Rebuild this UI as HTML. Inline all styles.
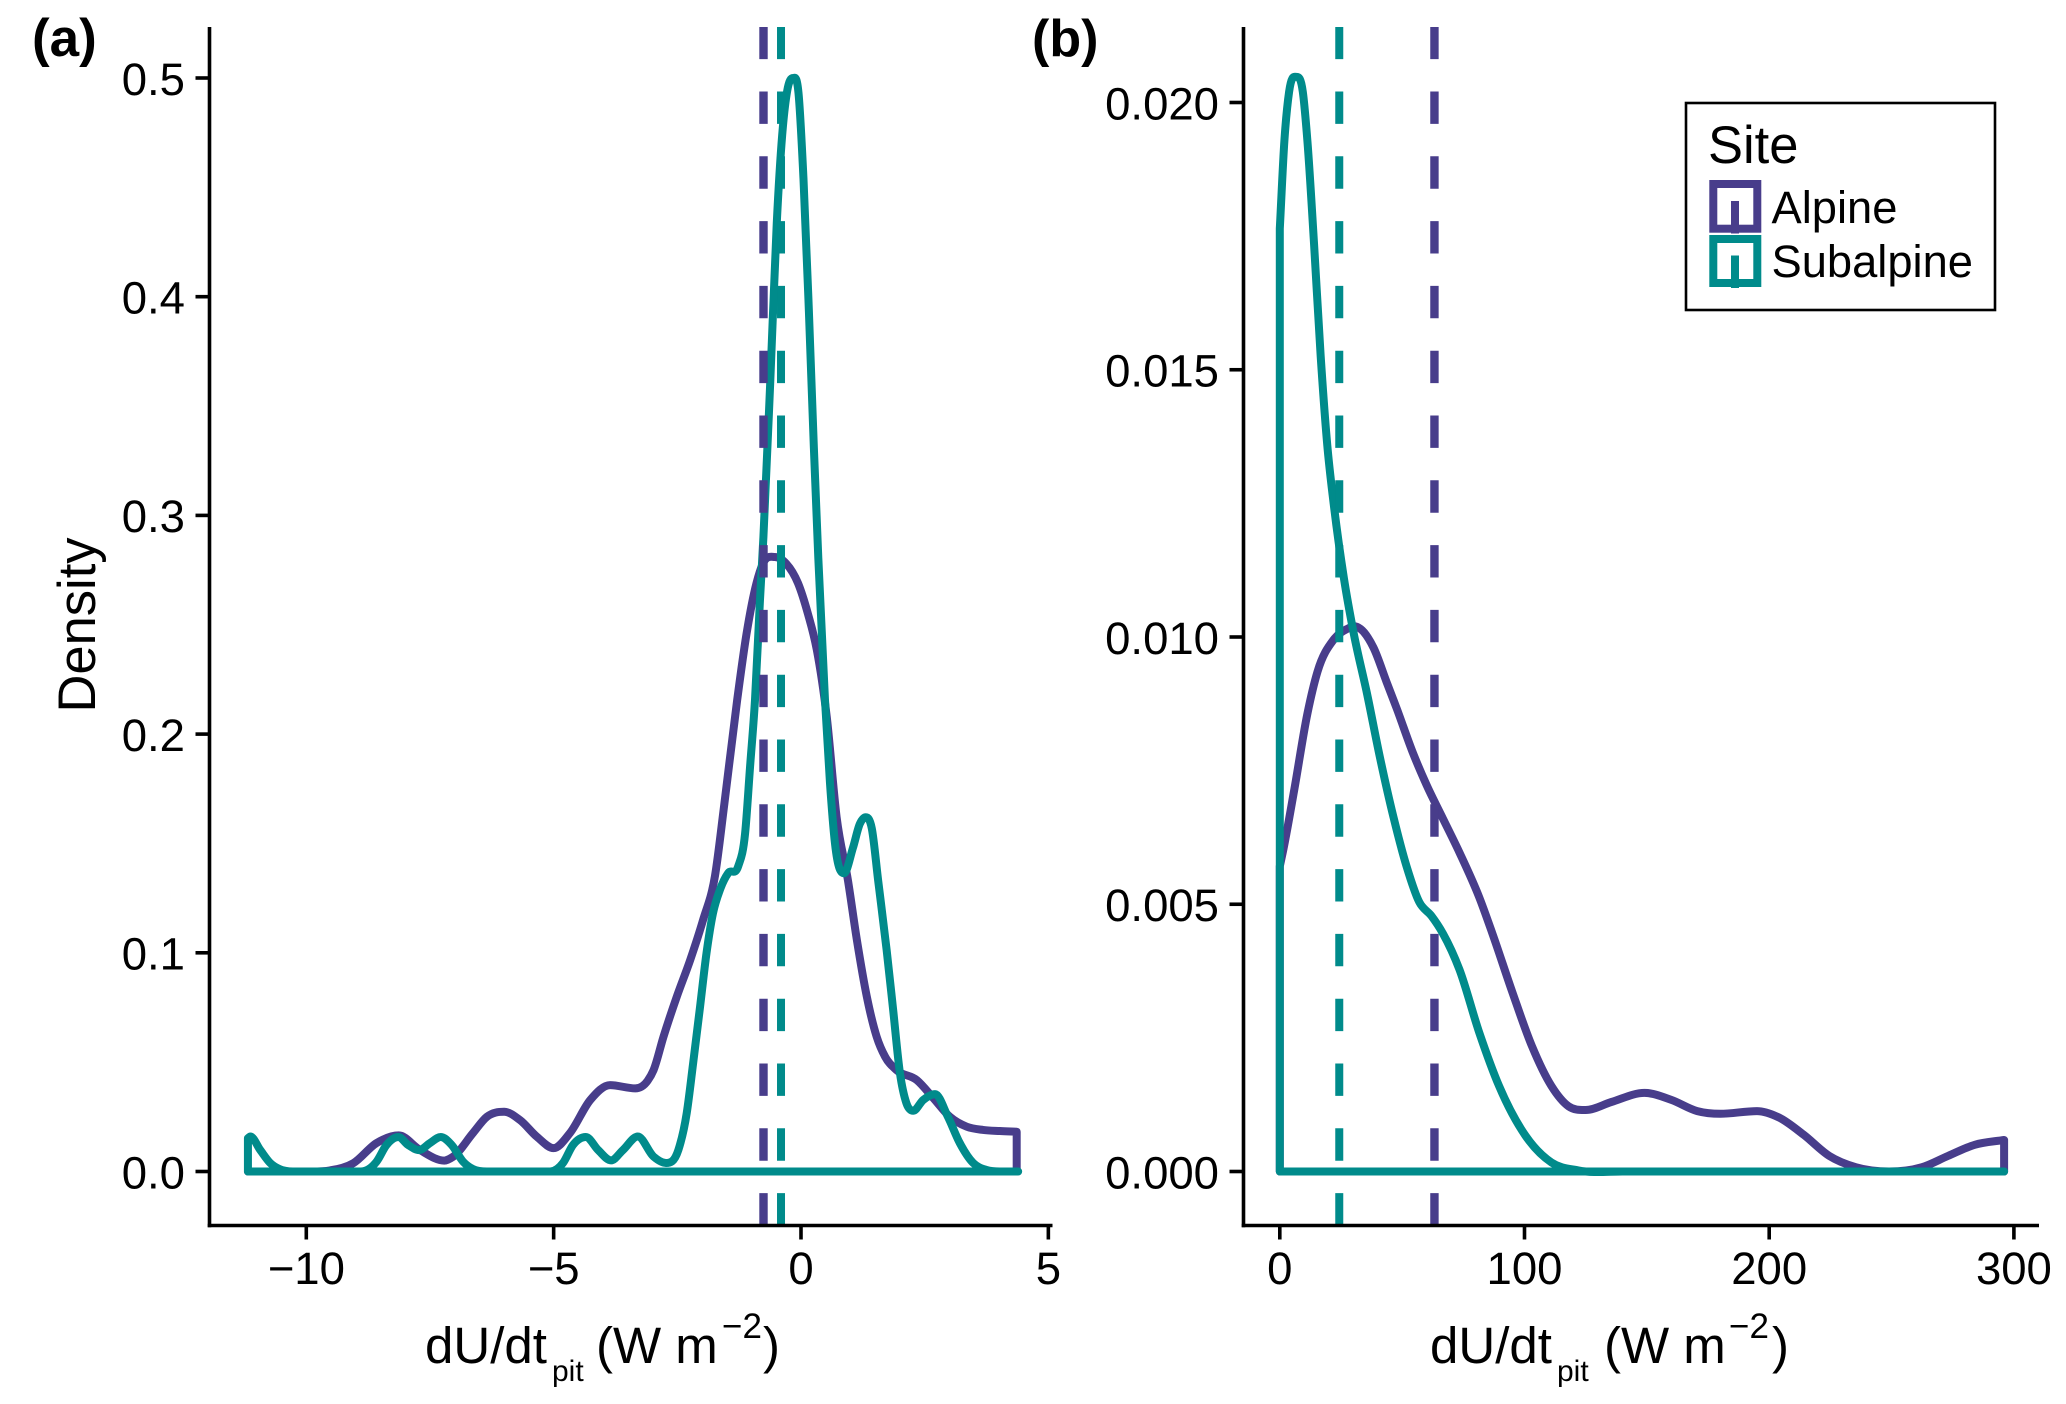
<!DOCTYPE html>
<html lang="en">
<head>
<meta charset="utf-8">
<title>Density of dU/dt pit by site</title>
<style>
html,body{margin:0;padding:0;background:#fff;}
svg{display:block;font-family:"Liberation Sans",Arial,sans-serif;}
</style>
</head>
<body>
<svg id="chart" xmlns="http://www.w3.org/2000/svg" width="2066" height="1404" viewBox="0 0 2066 1404">
  <rect x="0" y="0" width="2066" height="1404" fill="#ffffff"/>
  <g id="panelA"></g>
  <g id="panelB"></g>

  <text x="32" y="56" font-size="53" font-weight="bold">(a)</text>
  <text x="1032" y="56" font-size="52" font-weight="bold">(b)</text>
  <text transform="translate(95,625) rotate(-90)" text-anchor="middle" font-size="52.5">Density</text>

  <text font-size="51" y="1363"><tspan x="425">dU/dt</tspan><tspan x="552" y="1381" font-size="30">pit</tspan><tspan x="596" y="1363">(W m</tspan><tspan x="722" y="1338" font-size="35">−2</tspan><tspan x="763" y="1363">)</tspan></text>
  <text font-size="51" y="1363"><tspan x="1430">dU/dt</tspan><tspan x="1557" y="1381" font-size="30">pit</tspan><tspan x="1604" y="1363">(W m</tspan><tspan x="1729" y="1338" font-size="35">−2</tspan><tspan x="1772" y="1363">)</tspan></text>

  <g>
    <rect x="1686" y="103" width="309" height="207" fill="#ffffff" stroke="#000000" stroke-width="2.6"/>
    <text x="1708" y="163" font-size="52.5">Site</text>
    <g>
      <rect x="1713.3" y="184" width="44" height="44.7" fill="#ffffff" stroke="#483d8b" stroke-width="8"/>
      <line x1="1735" x2="1735" y1="201" y2="233.5" stroke="#483d8b" stroke-width="8"/>
      <text x="1771.5" y="223" font-size="45.3">Alpine</text>
    </g>
    <g>
      <rect x="1713.3" y="239" width="44" height="44" fill="#ffffff" stroke="#008b8b" stroke-width="8"/>
      <line x1="1735" x2="1735" y1="255.5" y2="288" stroke="#008b8b" stroke-width="8"/>
      <text x="1771.5" y="277" font-size="45.3">Subalpine</text>
    </g>
  </g>
</svg>
<script>
// Panel (a) data
const aXTicks = [-10, -5, 0, 5];
const aXTickLabels = ['−10', '−5', '0', '5'];
const aYTicks = [0, 0.1, 0.2, 0.3, 0.4, 0.5];
const aYTickLabels = ['0.0', '0.1', '0.2', '0.3', '0.4', '0.5'];
const aMeans = [-0.758, -0.404];
const aAlpineX = [-11.18,-10,-9.52,-9.05,-8.58,-8.13,-7.7,-7.21,-7.03,-6.63,-6.35,-6.0,-5.68,-5.34,-5.0,-4.67,-4.26,-3.86,-3.35,-3.1,-2.98,-2.78,-2.51,-2.24,-1.98,-1.74,-1.55,-1.29,-1.1,-0.9,-0.77,-0.53,-0.3,-0.06,0.14,0.32,0.52,0.72,0.95,1.13,1.33,1.53,1.7,1.93,2.34,2.67,3.01,3.35,3.68,4.02,4.36];
const aAlpineY = [0,0,0.0005,0.0038,0.013,0.0165,0.0098,0.005,0.0068,0.0176,0.025,0.0273,0.0235,0.0159,0.0107,0.0176,0.0327,0.0395,0.038,0.0415,0.0464,0.0616,0.08,0.0967,0.115,0.135,0.168,0.2156,0.246,0.269,0.278,0.281,0.278,0.269,0.255,0.2385,0.208,0.162,0.133,0.1058,0.08,0.0616,0.0525,0.0464,0.0418,0.0337,0.025,0.0205,0.019,0.0185,0.0182];
const aSubalpineX = [-11.18,-11.13,-10.93,-10.73,-10.55,-10.27,-8.9,-8.58,-8.38,-8.14,-7.94,-7.72,-7.5,-7.28,-7.06,-6.83,-6.63,-6.35,-5.07,-4.81,-4.61,-4.35,-4.1,-3.84,-3.6,-3.3,-2.98,-2.73,-2.48,-2.31,-2.18,-2.04,-1.91,-1.78,-1.64,-1.47,-1.27,-1.13,-1.03,-0.93,-0.83,-0.76,-0.62,-0.49,-0.38,-0.28,-0.16,-0.05,0.05,0.16,0.26,0.35,0.485,0.586,0.687,0.87,1.05,1.19,1.31,1.43,1.56,1.73,1.86,2.0,2.13,2.27,2.47,2.71,2.97,3.21,3.48,3.75,4.02,4.39];
const aSubalpineY = [0.0152,0.016,0.0098,0.0039,0.0012,0,0,0.0045,0.0121,0.0158,0.0121,0.0098,0.013,0.0158,0.0121,0.0045,0.0011,0,0,0.0039,0.0121,0.0158,0.0098,0.0051,0.0098,0.016,0.0068,0.0039,0.0098,0.0267,0.0496,0.0754,0.0999,0.118,0.1287,0.1365,0.1395,0.1546,0.185,0.2156,0.261,0.29,0.362,0.4336,0.474,0.494,0.5,0.493,0.454,0.393,0.331,0.2805,0.2156,0.1776,0.15,0.1364,0.148,0.159,0.162,0.157,0.133,0.1015,0.0745,0.045,0.0313,0.0278,0.0327,0.0354,0.025,0.013,0.0039,0.0007,0,0];

// Panel (b) data
const bXTicks = [0, 100, 200, 300];
const bXTickLabels = ['0', '100', '200', '300'];
const bYTicks = [0, 0.005, 0.01, 0.015, 0.02];
const bYTickLabels = ['0.000', '0.005', '0.010', '0.015', '0.020'];
const bMeans = [63.2, 24.3];
const bAlpineX = [0,1.35,5.9,11.3,15.4,22,27.5,30.5,33,38.3,43.7,47.8,54.5,60,66.7,73.4,81.5,86.9,95,103,111,118,125,135.5,149,160,170.6,180,195,204,214,224.6,235.4,249,262.4,273,284,296];
const bAlpineY = [0.00571,0.006,0.00714,0.00857,0.00935,0.00995,0.01015,0.0102,0.01015,0.0098,0.00915,0.00866,0.00782,0.00723,0.0066,0.00597,0.00513,0.00445,0.00336,0.00235,0.0016,0.00122,0.00115,0.0013,0.00147,0.00134,0.00113,0.00108,0.00113,0.00101,0.00069,0.00029,0.00008,0,0.00008,0.00029,0.0005,0.00059];
const bSubalpineX = [0,1.9,3.8,6.75,9.4,11.3,14,16.7,19.4,22,26.2,30.2,35.6,41,46.4,51.8,57,62,66.7,73.4,81.5,89.6,100.4,111,122,140,296];
const bSubalpineY = [0.01764,0.0193,0.0202,0.02048,0.0202,0.01927,0.01735,0.01526,0.01359,0.0125,0.0111,0.01007,0.00895,0.00773,0.00664,0.00571,0.00504,0.00478,0.00445,0.00378,0.0026,0.0016,0.00067,0.00017,0.00002,0,0];

const siteNames = ['alpine', 'subalpine'];
const siteColors = ['#483d8b', '#008b8b'];
const svgNS = 'http://www.w3.org/2000/svg';

// Axis functions
const aX = v => 801 + 49.47 * v;
const aY = v => 1171.5 - 2187 * v;
const bX = v => 1279.8 + 2.447 * v;
const bY = v => 1171.5 - 53450 * v;

// Smooth cubic path through pixel points; flat tangents at local extrema
function smoothPath(px, py) {
  const n = px.length, m = [], s = [];
  for (let i = 0; i < n - 1; i++) s[i] = (py[i + 1] - py[i]) / (px[i + 1] - px[i]);
  m[0] = s[0];
  m[n - 1] = s[n - 2];
  for (let i = 1; i < n - 1; i++) {
    if (s[i - 1] * s[i] <= 0) { m[i] = 0; continue; }
    const h0 = px[i] - px[i - 1], h1 = px[i + 1] - px[i];
    m[i] = (h1 * s[i - 1] + h0 * s[i]) / (h0 + h1);
  }
  let d = '';
  for (let i = 0; i < n - 1; i++) {
    const h = (px[i + 1] - px[i]) / 3;
    d += ' C' + (px[i] + h).toFixed(2) + ' ' + (py[i] + m[i] * h).toFixed(2) + ' ' +
      (px[i + 1] - h).toFixed(2) + ' ' + (py[i + 1] - m[i + 1] * h).toFixed(2) + ' ' +
      px[i + 1].toFixed(2) + ' ' + py[i + 1].toFixed(2);
  }
  return d;
}

function addLine(parent, x1, y1, x2, y2, color, width) {
  const el = document.createElementNS(svgNS, 'line');
  el.setAttribute('x1', x1);
  el.setAttribute('y1', y1);
  el.setAttribute('x2', x2);
  el.setAttribute('y2', y2);
  el.setAttribute('stroke', color);
  el.setAttribute('stroke-width', width);
  parent.appendChild(el);
  return el;
}

function addText(parent, x, y, anchor, content) {
  const el = document.createElementNS(svgNS, 'text');
  el.setAttribute('x', x);
  el.setAttribute('y', y);
  el.setAttribute('text-anchor', anchor);
  el.setAttribute('font-size', '45.5');
  el.textContent = content;
  parent.appendChild(el);
  return el;
}

function drawPanel(id, prefix, sx, sy, layout, xTicks, xLabels, yTicks, yLabels, means, seriesX, seriesY) {
  const g = document.getElementById(id);

  seriesX.forEach(function (xs, k) {
    const px = xs.map(sx);
    const py = seriesY[k].map(sy);
    const base = sy(0);
    const path = document.createElementNS(svgNS, 'path');
    
    
    path.setAttribute('d', 'M' + px[0].toFixed(2) + ' ' + base + ' L' + px[0].toFixed(2) + ' ' + py[0].toFixed(2) +
      smoothPath(px, py) + ' L' + px[px.length - 1].toFixed(2) + ' ' + base + ' Z');
    path.setAttribute('fill', 'none');
    path.setAttribute('stroke', siteColors[k]);
    path.setAttribute('stroke-width', '8');
    path.setAttribute('stroke-linejoin', 'round');
    g.appendChild(path);
  });

  means.forEach(function (v, k) {
    const line = addLine(g, sx(v), layout.bottom, sx(v), layout.top, siteColors[k], k === 0 ? 8.4 : 8);
    line.setAttribute('stroke-dasharray', '32.4 32.4');
    
    
  });

  const yAxis = addLine(g, layout.left, layout.top, layout.left, layout.bottom + 1.8, '#000000', 3.6);
  
  
  const xAxis = addLine(g, layout.left - 1.8, layout.bottom, layout.right, layout.bottom, '#000000', 3.6);
  
  

  xTicks.forEach(function (v, i) {
    const tick = addLine(g, sx(v), layout.bottom, sx(v), layout.bottom + 14, '#000000', 3.6);
    
    
    const label = addText(g, sx(v), 1284, 'middle', xLabels[i]);
    
    
  });

  yTicks.forEach(function (v, i) {
    const tick = addLine(g, layout.left - 14, sy(v), layout.left, sy(v), '#000000', 3.6);
    
    
    const label = addText(g, layout.labelRight, sy(v) + 16.8, 'end', yLabels[i]);
    
    
  });
}

drawPanel('panelA', 'panel-a', aX, aY, {left: 209.5, right: 1052.5, top: 27, bottom: 1225.5, labelRight: 185},
  aXTicks, aXTickLabels, aYTicks, aYTickLabels, aMeans, [aAlpineX, aSubalpineX], [aAlpineY, aSubalpineY]);
drawPanel('panelB', 'panel-b', bX, bY, {left: 1243.5, right: 2039, top: 27, bottom: 1225.5, labelRight: 1219},
  bXTicks, bXTickLabels, bYTicks, bYTickLabels, bMeans, [bAlpineX, bSubalpineX], [bAlpineY, bSubalpineY]);
</script>
</body>
</html>
